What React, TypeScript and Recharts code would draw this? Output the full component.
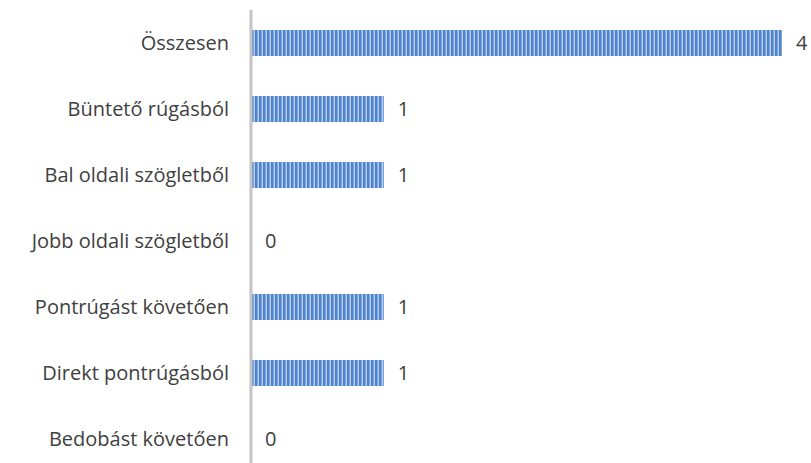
import { Bar, BarChart, XAxis, YAxis } from 'recharts';

const categories = [
    'Összesen',
    'Büntető rúgásból',
    'Bal oldali szögletből',
    'Jobb oldali szögletből',
    'Pontrúgást követően',
    'Direkt pontrúgásból',
    'Bedobást követően',
];
const goals = [4, 1, 1, 0, 1, 1, 0];

const data = categories.map((name, i) => ({ name, value: goals[i] }));

const font = '"Open Sans", sans-serif';

// zero bars get no label from LabelList, so the shape draws bar + value text
const StripedBar = (props: any) => {
    const { x, y, width, height, value } = props;
    const v = Array.isArray(value) ? value[1] : value;
    const w = v > 0 ? width : 0;
    return (
        <g>
            {v > 0 && <rect x={x} y={y} width={w} height={height} fill="url(#stripes)" />}
            <text
                x={x + w + 14}
                y={y + height / 2}
                dy={7}
                fill="#404040"
                fontSize={20}
                fontFamily={font}
            >
                {v}
            </text>
        </g>
    );
};

export default function App() {
    return (
        <div style={{ position: 'absolute', left: 0, top: 0, width: 811, height: 463, overflow: 'hidden', background: '#fff' }}>
            <BarChart
                width={811}
                height={480}
                data={data}
                layout="vertical"
                barSize={26}
                margin={{ top: 10, right: 29, bottom: 8, left: 0 }}
            >
                <defs>
                    <pattern id="stripes" width="4" height="4" patternUnits="userSpaceOnUse">
                        <rect x="0" y="0" width="4" height="4" fill="#4f83cc" />
                        <rect x="1" y="0" width="1" height="4" fill="#7fa7de" />
                        <rect x="2" y="0" width="1" height="4" fill="#b4cdf0" />
                    </pattern>
                </defs>
                <XAxis type="number" domain={[0, 4]} hide />
                <YAxis
                    type="category"
                    dataKey="name"
                    width={251}
                    tickLine={false}
                    axisLine={{ stroke: '#c4c4c4', strokeWidth: 3 }}
                    tickMargin={16}
                    tick={{ fill: '#404040', fontSize: 20, fontFamily: font }}
                />
                <Bar
                    dataKey="value"
                    minPointSize={1}
                    shape={StripedBar}
                    isAnimationActive={false}
                />
            </BarChart>
        </div>
    );
}
